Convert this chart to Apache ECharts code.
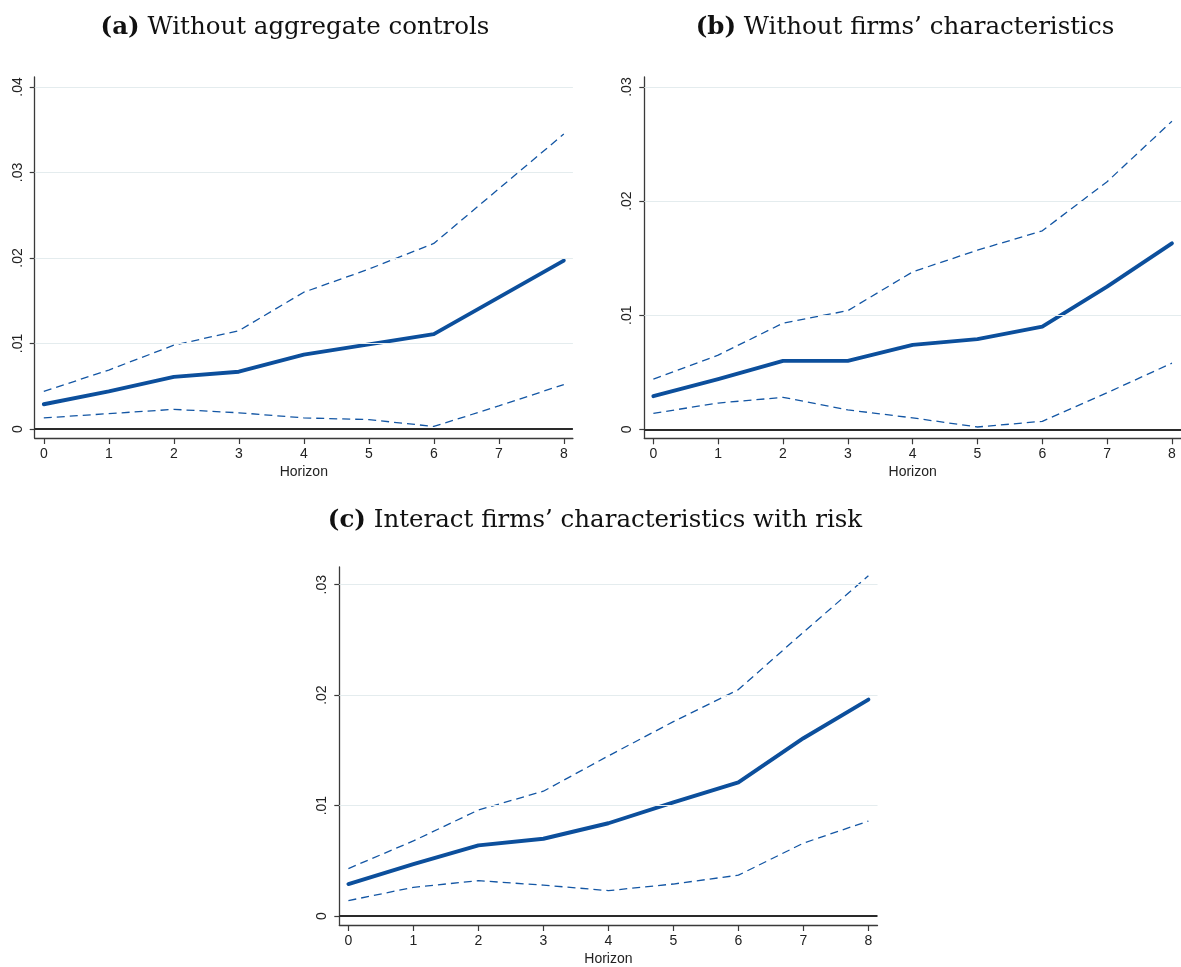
<!DOCTYPE html>
<html>
<head>
<meta charset="utf-8">
<script src="https://cdn.jsdelivr.net/npm/echarts@6/dist/echarts.min.js"></script>
<style>
html,body{margin:0;padding:0;background:#fff;}
#c{width:1181px;height:967px;}
</style>
</head>
<body>
<div id="c"></div>
<script>
// ---- data ----
const horizon = [0, 1, 2, 3, 4, 5, 6, 7, 8];

const titleA = ['(a)', 'Without aggregate controls'];
const titleB = ['(b)', 'Without firms\u2019 characteristics'];
const titleC = ['(c)', 'Interact firms\u2019 characteristics with risk'];
const xName = 'Horizon';

const aMain  = [0.0029, 0.0044, 0.0061, 0.0067, 0.0087, 0.0099, 0.0111, 0.0154, 0.0197];
const aUpper = [0.0044, 0.0069, 0.0098, 0.0115, 0.0160, 0.0187, 0.0217, 0.0281, 0.0345];
const aLower = [0.0013, 0.0018, 0.0023, 0.0019, 0.0013, 0.0011, 0.0003, 0.0027, 0.0052];

const bMain  = [0.0029, 0.0044, 0.0060, 0.0060, 0.0074, 0.0079, 0.0090, 0.0125, 0.0163];
const bUpper = [0.0044, 0.0065, 0.0093, 0.0104, 0.0138, 0.0157, 0.0174, 0.0217, 0.0270];
const bLower = [0.0014, 0.0023, 0.0028, 0.0017, 0.0010, 0.0002, 0.0007, 0.0032, 0.0058];

const cMain  = [0.0029, 0.0047, 0.0064, 0.0070, 0.0084, 0.0103, 0.0121, 0.0161, 0.0196];
const cUpper = [0.0043, 0.0068, 0.0096, 0.0113, 0.0145, 0.0176, 0.0205, 0.0257, 0.0308];
const cLower = [0.0014, 0.0026, 0.0032, 0.0028, 0.0023, 0.0029, 0.0037, 0.0066, 0.0086];

const yTicksA  = [0, 0.01, 0.02, 0.03, 0.04];
const yLabelsA = ['0', '.01', '.02', '.03', '.04'];
const yTicksB  = [0, 0.01, 0.02, 0.03];
const yLabelsB = ['0', '.01', '.02', '.03'];
const yTicksC  = [0, 0.01, 0.02, 0.03];
const yLabelsC = ['0', '.01', '.02', '.03'];

// ---- styling ----
const BLUE = '#0c4f9c';
const AXIS = '#3a3a3a';
const GRIDC = '#e4ecee';
const SANS = 'Liberation Sans, Arial, sans-serif';
const SERIF = 'DejaVu Serif, serif';
const TSIZE = 24.5;

const panels = [
  {title: titleA, tx: 290, ty: 10, grid: {left: 34.7, width: 538.2, top: 77, height: 361},
   ymin: -0.00105, ymax: 0.04117, ticks: yTicksA, labels: yLabelsA, main: aMain, up: aUpper, lo: aLower},
  {title: titleB, tx: 900, ty: 10, grid: {left: 644.3, width: 538.5, top: 77, height: 361.3},
   ymin: -0.00079, ymax: 0.03088, ticks: yTicksB, labels: yLabelsB, main: bMain, up: bUpper, lo: bLower},
  {title: titleC, tx: 590, ty: 503, grid: {left: 339.3, width: 538.2, top: 567, height: 361.3},
   ymin: -0.00081, ymax: 0.0316, ticks: yTicksC, labels: yLabelsC, main: cMain, up: cUpper, lo: cLower}
];

const option = {
  animation: false,
  backgroundColor: '#fff',
  title: [], grid: [], xAxis: [], yAxis: [], series: []
};

panels.forEach((p, i) => {
  option.title.push({
    text: '{b|' + p.title[0] + '} ' + p.title[1],
    left: p.tx, top: p.ty, textAlign: 'center',
    textStyle: {
      fontFamily: SERIF, fontSize: TSIZE, fontWeight: 'normal', color: '#111',
      rich: {b: {fontFamily: SERIF, fontSize: TSIZE, fontWeight: 'bold', color: '#111'}}
    }
  });
  option.grid.push(Object.assign({containLabel: false}, p.grid));
  option.xAxis.push({
    type: 'value', gridIndex: i, min: -0.14, max: 8.14,
    name: xName, nameLocation: 'middle', nameGap: 27,
    nameTextStyle: {fontFamily: SANS, fontSize: 14, color: '#222'},
    axisLine: {show: true, onZero: false, lineStyle: {color: AXIS, width: 1.3}},
    axisTick: {show: true, length: 6, customValues: horizon, lineStyle: {color: AXIS, width: 1.2}},
    axisLabel: {customValues: horizon, margin: 9, fontFamily: SANS, fontSize: 14, color: '#222',
      formatter: v => String(v)},
    splitLine: {show: false}
  });
  const labs = p.labels, tks = p.ticks;
  option.yAxis.push({
    type: 'value', gridIndex: i, min: p.ymin, max: p.ymax,
    axisLine: {show: true, onZero: false, lineStyle: {color: AXIS, width: 1.3}},
    axisTick: {show: true, length: 5, customValues: tks, lineStyle: {color: AXIS, width: 1.2}},
    axisLabel: {customValues: tks, rotate: 90, margin: 10, fontFamily: SANS, fontSize: 14, color: '#222',
      formatter: v => {
        let k = 0, best = Infinity;
        tks.forEach((t, j) => { const d = Math.abs(t - v); if (d < best) { best = d; k = j; } });
        return labs[k];
      }},
    splitLine: {show: false}
  });
  // gridlines drawn through the y scale
  option.series.push({
    type: 'line', xAxisIndex: i, yAxisIndex: i, data: [], silent: true, z: 1,
    markLine: {
      silent: true, symbol: 'none', animation: false, label: {show: false},
      data: tks.map(t => ({yAxis: t, lineStyle: t === 0
        ? {color: '#2a2a2a', width: 1.8, type: 'solid'}
        : {color: GRIDC, width: 1.2, type: 'solid'}}))
    }
  });
  const mk = (arr, isMain) => ({
    type: 'line', xAxisIndex: i, yAxisIndex: i, z: 3,
    data: horizon.map((h, j) => [h, arr[j]]),
    showSymbol: false, symbol: 'none', smooth: false,
    lineStyle: isMain ? {color: BLUE, width: 3.9, cap: 'round', join: 'round'}
                      : {color: '#1356a4', width: 1.3, type: [8, 5]}
  });
  option.series.push(mk(p.up, false));
  option.series.push(mk(p.lo, false));
  option.series.push(mk(p.main, true));
});

const chart = echarts.init(document.getElementById('c'), null, {renderer: 'canvas'});
chart.setOption(option);
</script>
</body>
</html>
